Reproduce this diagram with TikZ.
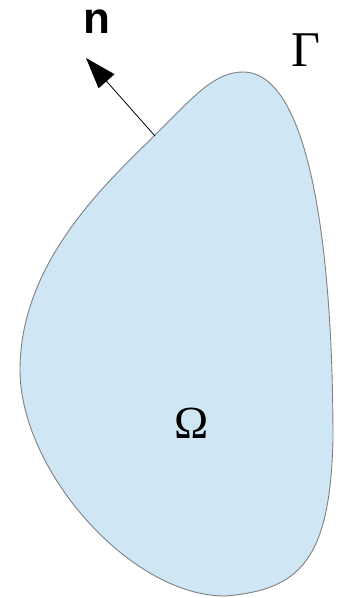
\documentclass[tikz,border=0pt]{standalone}
\usepackage{fontspec}
\setmainfont{Liberation Serif}
\newfontfamily\normfont{Liberation Sans}
\usetikzlibrary{arrows.meta}
\definecolor{domainblue}{HTML}{CFE6F4}
\definecolor{edgegray}{HTML}{808080}
\begin{document}
\begin{tikzpicture}[x=1pt, y=-1pt, every node/.style={inner sep=0pt}]
                    \useasboundingbox (0,0) rectangle (345,598);
                    % Domain
                    \draw[edgegray, fill=domainblue, line width=0.9pt]
                        (243,72) .. controls (310,72) and (333,250) .. (333,440)
                        .. controls (330,560) and (300,590) .. (225,596)
                        .. controls (130,596) and (20,470) .. (20,370)
                        .. controls (20,260) and (110,180) .. (155,135)
                        .. controls (195,95) and (215,72) .. (243,72) -- cycle;
                    
                    % Normal
                    \coordinate (base) at (155,136);
                    \coordinate (tip) at (86,58);
                    \draw[line width=0.8pt, -{Triangle[length=31pt, width=21pt]}] (base) -- (tip);
                    
                    % Labels
                    \node (n) at (97,22) {\normfont\bfseries\fontsize{44}{44}\selectfont n};
                    \node (gamma) at (306,50) {\fontsize{50}{50}\selectfont Γ};
                    \node (omega) at (192,423) {\fontsize{46}{46}\selectfont Ω};
                \end{tikzpicture}
\end{document}
